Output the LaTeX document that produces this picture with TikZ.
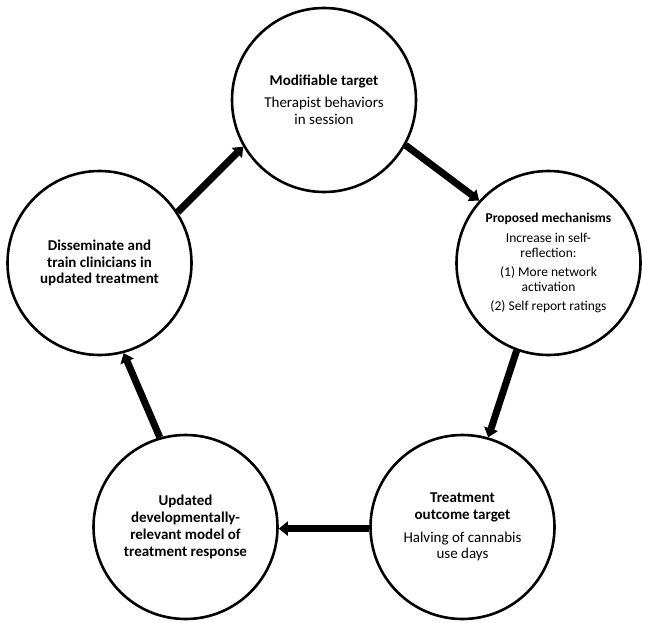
\documentclass[tikz,border=0pt]{standalone}
\usepackage{fontspec}
\setmainfont{Carlito}
\usetikzlibrary{arrows.meta}
\tikzset{
  stage/.style={circle, draw, line width=2.6pt, minimum size=184pt, inner sep=0pt,
    align=center, font=\fontsize{15}{16.8}\selectfont},
  smalltext/.style={font=\fontsize{13.5}{15}\selectfont},
  flow/.style={line width=7pt, -{Triangle[width=14pt,length=9pt]}},
}
\begin{document}
\begin{tikzpicture}[x=1pt,y=-1pt]
\useasboundingbox (0,0) rectangle (645,623);
\node[stage] (top) at (324,100) {\textbf{Modifiable target}\\[5pt]Therapist behaviors\\in session};
\node[stage, smalltext] (right) at (548.5,263) {\textbf{Proposed mechanisms}\\[5pt]Increase in self-\\reflection:\\[4pt](1) More network\\activation\\[4pt](2) Self report ratings};
\node[stage] (br) at (462.5,527) {\textbf{Treatment}\\\textbf{outcome target}\\[6pt]Halving of cannabis\\use days};
\node[stage] (bl) at (185.5,527) {\textbf{Updated}\\\textbf{developmentally-}\\\textbf{relevant model of}\\\textbf{treatment response}};
\node[stage] (left) at (99.5,263) {\textbf{Disseminate and}\\\textbf{train clinicians in}\\\textbf{updated treatment}};
\draw[flow] (top.-29) -- (right.138);
\draw[flow] (right.-110) -- (br.74);
\draw[flow] (br.181) -- (bl.-1);
\draw[flow] (bl.106) -- (left.-75);
\draw[flow] (left.33) -- (top.210);
\end{tikzpicture}
\end{document}
